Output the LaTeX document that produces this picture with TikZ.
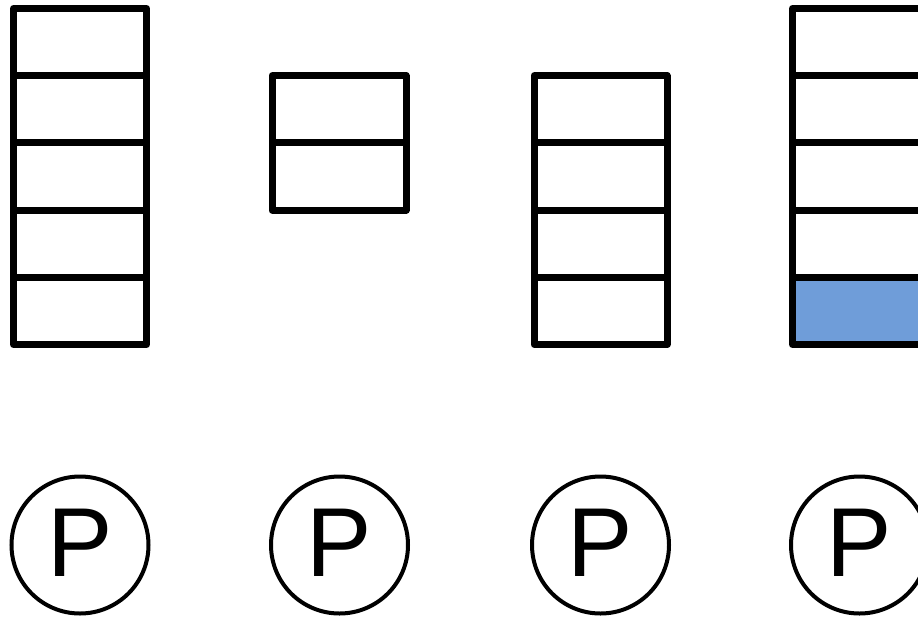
\documentclass[tikz,border=0pt]{standalone}
\usepackage{fontspec}
\setmainfont{Liberation Sans}
\definecolor{cellblue}{RGB}{111,157,217}
\tikzset{
  cell/.style={draw=black, line width=7pt, line join=round},
  pcircle/.style={circle, draw=black, line width=4pt, minimum size=137pt, inner sep=0pt,
    font=\fontsize{98}{98}\selectfont},
}
\begin{document}
\begin{tikzpicture}[x=1pt,y=-1pt]
\useasboundingbox (0,0) rectangle (918,616);
\clip (0,0) rectangle (918,616);
% column 1: five cells
\foreach \i/\a/\b in {1/8.5/75.7, 2/75.7/142.9, 3/142.9/210.1, 4/210.1/277.3, 5/277.3/344.5}
  \draw[cell] (13.5,\a) rectangle (146.5,\b);
% column 2: two cells
\foreach \i/\a/\b in {1/75.7/142.9, 2/142.9/210.1}
  \draw[cell] (272,\a) rectangle (406,\b);
% column 3: four cells
\foreach \i/\a/\b in {1/75.7/142.9, 2/142.9/210.1, 3/210.1/277.3, 4/277.3/344.5}
  \draw[cell] (534,\a) rectangle (667,\b);
% column 4: five cells, bottom one filled
\foreach \i/\a/\b in {1/8.5/75.7, 2/75.7/142.9, 3/142.9/210.1, 4/210.1/277.3}
  \draw[cell] (792.5,\a) rectangle (925.5,\b);
\draw[cell, fill=cellblue] (792.5,277.3) rectangle (925.5,344.5);
% circles
\node[pcircle] (p1) at (80,545) {\raisebox{4pt}{P}};
\node[pcircle] (p2) at (339.5,545) {\raisebox{4pt}{P}};
\node[pcircle] (p3) at (600.5,545) {\raisebox{4pt}{P}};
\node[pcircle] (p4) at (859.5,545) {\raisebox{4pt}{P}};
\end{tikzpicture}
\end{document}
